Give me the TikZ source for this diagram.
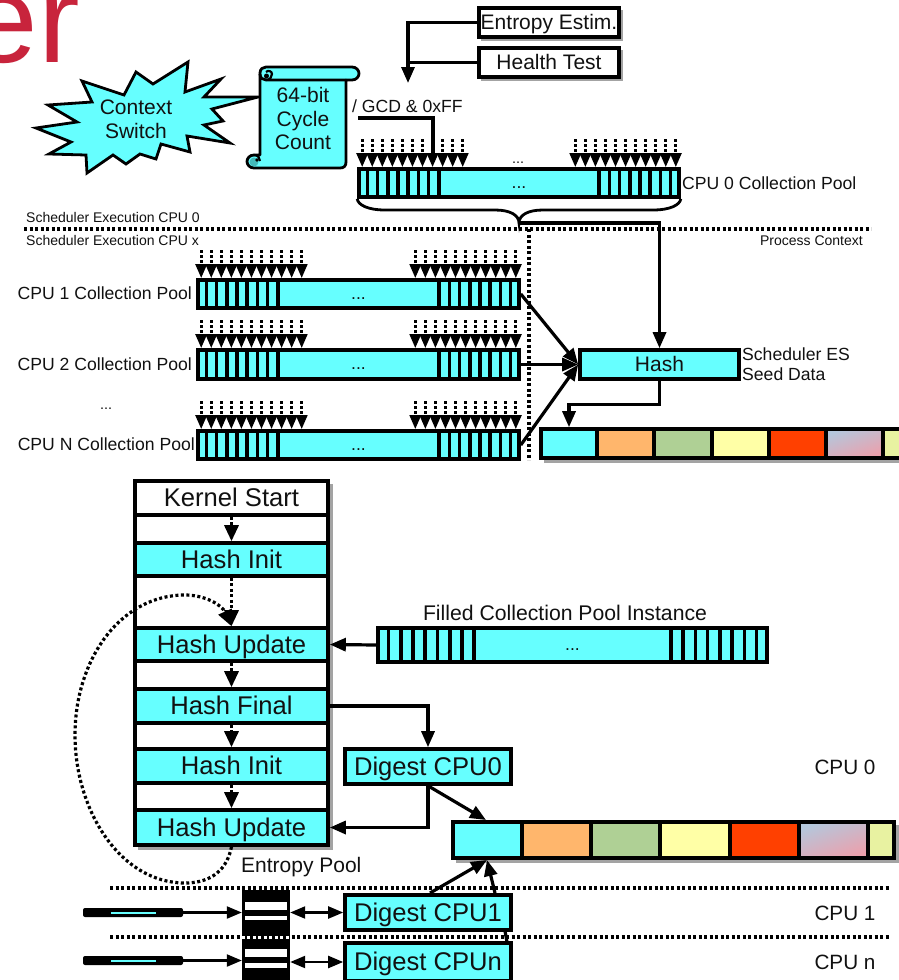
\documentclass[tikz,border=0pt]{standalone}
\usepackage{fontspec}
\setmainfont{Liberation Sans}
\usetikzlibrary{arrows.meta,calc}
\definecolor{cy}{HTML}{66FFFF}
\definecolor{shad}{HTML}{A3A3A3}
\definecolor{titlered}{HTML}{C8243C}
\definecolor{ink}{HTML}{111111}
\definecolor{teal2}{HTML}{44BBBB}
\definecolor{corange}{HTML}{FFB66C}
\definecolor{cgreen}{HTML}{AFD095}
\definecolor{cyellow}{HTML}{FFFFA6}
\definecolor{cred}{HTML}{FF4000}
\definecolor{cblue}{HTML}{B4C7DC}
\definecolor{cpink}{HTML}{ECA0AC}
\definecolor{clime}{HTML}{E8F2A1}
\newcommand\fsz[1]{\fontsize{#1}{#1}\selectfont}
% name, x1, y1, x2, y2, options, text : the node's path runs on the given rectangle
\newcommand\bxn[7]{%
  \pgfmathsetmacro\bxcx{(#2+#4)/2}%
  \pgfmathsetmacro\bxcy{(#3+#5)/2}%
  \pgfmathsetmacro\bxw{#4-#2}%
  \pgfmathsetmacro\bxh{#5-#3}%
  \node[#6,minimum width=\bxw pt,minimum height=\bxh pt] (#1) at (\bxcx,\bxcy) {#7};%
}
% the same, with the path inset by 1
\newcommand\bxo[7]{%
  \pgfmathsetmacro\bxcx{(#2+#4)/2}%
  \pgfmathsetmacro\bxcy{(#3+#5)/2}%
  \pgfmathsetmacro\bxw{#4-#2-2}%
  \pgfmathsetmacro\bxh{#5-#3-2}%
  \node[#6,minimum width=\bxw pt,minimum height=\bxh pt] (#1) at (\bxcx,\bxcy) {#7};%
}
% shadow under a box: x1, y1, x2, y2, offset
\newcommand\shd[5]{\fill[shad] (#1+#5,#2+#5) rectangle (#3+#5,#4+#5);}
% name, x1, y1, x2, y2, cell width
\newcommand\pooln[6]{%
  \bxo{#1}{#2}{#3}{#4}{#5}{cbox,font=\fsz{17.6},text height=10pt,text depth=0pt}{...}%
  \foreach \k in {1,...,8}{%
    \draw[divider] ($(#1.north west)+(#6*\k,0)$) -- ($(#1.south west)+(#6*\k,0)$);
    \draw[divider] ($(#1.north east)+(-#6*\k,0)$) -- ($(#1.south east)+(-#6*\k,0)$);
  }%
}
\newcommand\feedrow[1]{%
  \foreach \k in {0,...,10}{%
    \draw[feed] ($(#1.north west)+(5+10.05*\k,-28)$) -- ($(#1.north west)+(5+10.05*\k,0)$);
    \draw[feed] ($(#1.north east)+(-5-10.05*\k,-28)$) -- ($(#1.north east)+(-5-10.05*\k,0)$);
  }%
}
\tikzset{
  base/.style={inner sep=0pt,line width=3.6pt,text=ink,font=\fsz{21},text height=14.7pt,text depth=0pt},
  cbox/.style={base,draw=black,fill=cy},
  wbox/.style={base,draw=black,fill=white},
  rowtext/.style={font=\fsz{25.6},text height=17.9pt},
  divider/.style={line width=3.6pt,black},
  conn/.style={line width=3.2pt,black,-{Triangle[length=16pt,width=13pt]}},
  plain/.style={line width=3.2pt,black},
  feed/.style={line width=3pt,black,dash pattern=on 2.8pt off 2.2pt,-{Triangle[length=14pt,width=11pt]}},
  rowarrow/.style={line width=3.2pt,black,dash pattern=on 3pt off 2.5pt,-{Triangle[length=16pt,width=14pt]}},
  dotline/.style={line width=3.2pt,black,dash pattern=on 3pt off 2.5pt},
  label/.style={inner sep=0pt,text=ink,font=\fsz{17.6}},
  seedcell/.style={base,draw=black},
}
\begin{document}
\begin{tikzpicture}[x=1pt,y=-1pt]
\path[use as bounding box,clip] (0,0) rectangle (899,980);
% title fragment
\node[anchor=base east,inner sep=0pt,text=titlered,font=\fsz{125}] (title) at (80,62) {er};
% separators
\coordinate (sepL) at (24,229); \coordinate (sepR) at (871,229);
\coordinate (vtop) at (529,229); \coordinate (vbot) at (529,460);
\draw[dotline] (sepL) -- (sepR);
\draw[dotline] (vtop) -- (vbot);
\node[label,anchor=west,font=\fsz{14}] (sch0) at (26,217) {Scheduler Execution CPU 0};
\node[label,anchor=west,font=\fsz{14}] (schx) at (26,240) {Scheduler Execution CPU x};
\node[label,anchor=east,font=\fsz{14}] (proc) at (863,241) {Process Context};
% star
\draw[line width=2.8pt,fill=cy,line join=miter] (188,62) -- (185,92) -- (221,79) -- (204,97) -- (258,97) -- (212,109) -- (223,121) -- (204,125) -- (230,143) -- (187,136) -- (190,152) -- (161,144) -- (156,159) -- (140,154) -- (126,164) -- (113,155) -- (87,173) -- (86,155) -- (49,154) -- (71,142) -- (36,128) -- (77,122) -- (48,105) -- (92,102) -- (82,81) -- (124,95) -- (136,72) -- (153,84) -- cycle;
\node[inner sep=0pt,align=center,text=ink,font=\fontsize{21}{24}\selectfont] (star) at (136,119) {Context\\Switch};
% scroll
\draw[line width=2.8pt,fill=cy,line join=round] (266,67) -- (352,67) .. controls (356,67) and (359,70) .. (359,73.5) .. controls (359,77) and (356,80) .. (352,80) -- (346,80) -- (346,162) .. controls (346,166) and (344,168) .. (340,168) -- (254,168) .. controls (250,168) and (247,165) .. (247,161.5) .. controls (247,158) and (250,155) .. (254,155) -- (260,155) -- (260,73) .. controls (260,69) and (263,67) .. (266,67) -- cycle;
\draw[line width=2.8pt] (260,74) .. controls (260,78) and (263,80) .. (266,80) -- (346,80);
\draw[line width=2.2pt] (266,80) .. controls (270,80) and (272,77) .. (272,74) .. controls (272,71) and (268,70) .. (266,72);
\fill[black] (266.5,76) circle (2.5);
\fill[teal2] (254,162) circle (4.5);
\draw[line width=2.2pt] (254,155) .. controls (258,155) and (260,158) .. (260,161);
\fill[black] (257,160) circle (1.8);
\node[inner sep=0pt,align=center,text=ink,font=\fontsize{21}{23.5}\selectfont] (scroll) at (303,118.5) {64-bit\\Cycle\\Count};
% entropy estimator / health test
\shd{478}{7}{620}{38}{3}
\shd{478}{47}{620}{78}{3}
\bxo{ent}{478}{7}{620}{38}{wbox}{Entropy Estim.}
\bxo{hlt}{478}{47}{620}{78}{wbox}{Health Test}
\coordinate (tip) at (408,83);
\draw[conn] (ent.west) -| (tip);
\draw[plain] (hlt.west) -- (hlt.west -| tip);
\node[label,anchor=west] (gcd) at (352,106) {/ GCD \& 0xFF};
\coordinate (gcdS) at (358,118); \coordinate (gcdE) at (433,156);
\draw[plain] (gcdS) -| (gcdE);
% collection pools
\pooln{pool0}{358}{168}{680}{198}{10.2}
\feedrow{pool0}
\node[label,font=\fsz{14.4},text height=10pt,text depth=0pt] (dots0) at (518,158) {...};
\node[label,anchor=west] (pool0l) at (682,183) {CPU 0 Collection Pool};
\pooln{pool1}{197}{279}{520}{309}{10.2}
\feedrow{pool1}
\node[label,anchor=east] (pool1l) at (192,293) {CPU 1 Collection Pool};
\pooln{pool2}{197}{349}{520}{380}{10.2}
\feedrow{pool2}
\node[label,anchor=east] (pool2l) at (192,364) {CPU 2 Collection Pool};
\node[label,font=\fsz{14.4},text height=10pt,text depth=0pt] (dotsL) at (106,404) {...};
\pooln{pooln}{197}{430}{520}{460}{10.2}
\feedrow{pooln}
\node[label,anchor=east] (poolnl) at (195,444) {CPU N Collection Pool};
% brace
\coordinate (btip) at (519,223);
\draw[line width=2.8pt] (pool0.south west) .. controls (358,205) and (368,210) .. (385,210) -- (495,210) .. controls (510,210) and (519,215) .. (btip) .. controls (519,215) and (528,210) .. (543,210) -- (653,210) .. controls (670,210) and (680,205) .. (pool0.south east);
% hash
\bxo{hash}{579}{349}{740}{380}{cbox}{Hash}
\node[label,anchor=west] (hashl1) at (742,354) {Scheduler ES};
\node[label,anchor=west] (hashl2) at (742,374) {Seed Data};
\draw[conn] (btip) -| (hash.north);
\draw[conn] (pool1.east) -- (hash.west);
\draw[conn] (pool2.east) -- (hash.west);
\draw[conn] (pooln.east) -- (hash.west);
% seed bar
\shd{540}{428}{920}{459}{4}
\bxn{seed1}{541}{429}{597}{458}{seedcell,fill=cy}{}
\bxn{seed2}{597}{429}{654}{458}{seedcell,fill=corange}{}
\bxn{seed3}{654}{429}{712}{458}{seedcell,fill=cgreen}{}
\bxn{seed4}{712}{429}{769}{458}{seedcell,fill=cyellow}{}
\bxn{seed5}{769}{429}{826}{458}{seedcell,fill=cred}{}
\bxn{seed6}{826}{429}{883}{458}{seedcell,left color=cblue,right color=cpink,shading angle=20}{}
\bxn{seed7}{883}{429}{920}{458}{seedcell,fill=clime}{}
\draw[conn] (hash.south) -- ++(0,24) -| (seed1.north);
% stack
\shd{134}{480}{329}{846}{4}
\bxo{stack}{134}{480}{329}{846}{wbox}{}
\bxo{kstart}{134}{480}{329}{516}{wbox,rowtext}{Kernel Start}
\bxo{hinit}{134}{542}{329}{577}{cbox,rowtext}{Hash Init}
\bxo{hupd}{134}{627}{329}{662}{cbox,rowtext}{Hash Update}
\bxo{hfin}{134}{688}{329}{724}{cbox,rowtext}{Hash Final}
\bxo{hinit2}{134}{748}{329}{784}{cbox,rowtext}{Hash Init}
\bxo{hupd2}{134}{809}{329}{846}{cbox,rowtext}{Hash Update}
\draw[rowarrow] (kstart.south) -- (hinit.north);
\draw[rowarrow] (hinit.south) -- (hupd.north);
\draw[rowarrow] (hupd.south) -- (hfin.north);
\draw[rowarrow] (hfin.south) -- (hinit2.north);
\draw[rowarrow] (hinit2.south) -- (hupd2.north);
\draw[rowarrow] (hupd2.south) .. controls (226,875) and (205,883) .. (185,883) .. controls (120,883) and (75,810) .. (75,735) .. controls (75,660) and (120,595) .. (185,595) .. controls (205,595) and (222,605) .. (hupd.north);
% filled pool
\pooln{filled}{377}{627}{768}{663}{12.25}
\node[label,font=\fsz{21.2}] (filledl) at (565,613) {Filled Collection Pool Instance};
\draw[conn] (filled.west) -- (hupd.east);
% digests
\bxo{dig0}{344}{748}{512}{785}{cbox,rowtext}{Digest CPU0}
\draw[conn] (hfin.east) -| (dig0.north);
\draw[conn] (dig0.south) |- (hupd2.east);
% entropy pool
\shd{452}{821}{895}{859}{4}
\bxn{ep1}{453}{822}{522}{858}{seedcell,fill=cy}{}
\bxn{ep2}{522}{822}{591}{858}{seedcell,fill=corange}{}
\bxn{ep3}{591}{822}{660}{858}{seedcell,fill=cgreen}{}
\bxn{ep4}{660}{822}{730}{858}{seedcell,fill=cyellow}{}
\bxn{ep5}{730}{822}{799}{858}{seedcell,fill=cred}{}
\bxn{ep6}{799}{822}{868}{858}{seedcell,left color=cblue,right color=cpink,shading angle=20}{}
\bxn{ep7}{868}{822}{894}{858}{seedcell,fill=clime}{}
\coordinate (epTop) at (486,820);
\coordinate (epBot) at (487,860);
\draw[conn] (dig0.south) -- (epTop);
\node[label,anchor=west,font=\fsz{21}] (epl) at (241,867) {Entropy Pool};
% CPU separators
\coordinate (s1L) at (110,888); \coordinate (s1R) at (890,888);
\coordinate (s2L) at (110,937); \coordinate (s2R) at (890,937);
\draw[dotline] (s1L) -- (s1R);
\draw[dotline] (s2L) -- (s2R);
% sources and buffer column
\bxn{col}{242}{890}{290}{990}{inner sep=0pt,fill=black}{}
\fill[white] (245,902) rectangle (287,909.5);
\fill[white] (245,915.5) rectangle (287,920);
\fill[white] (245,949) rectangle (287,957);
\fill[white] (245,963) rectangle (287,968);
\draw[line width=3pt,white,dash pattern=on 3pt off 2.5pt] (col.west |- s2L) -- (col.east |- s2L);
\bxo{dig1}{344}{894}{512}{931}{cbox,rowtext}{Digest CPU1}
\bxo{dign}{344}{942}{512}{982}{cbox,rowtext}{Digest CPUn}
\bxn{src1}{83}{908}{183}{917}{inner sep=0pt,fill=black,rounded corners=2pt}{}
\fill[cy] (111,912) rectangle (156,914);
\bxn{srcn}{83}{956}{183}{965}{inner sep=0pt,fill=black,rounded corners=2pt}{}
\fill[cy] (111,960) rectangle (156,962);
\draw[line width=2.2pt,-{Triangle[length=15pt,width=12pt]}] (src1.east) -- (src1.east -| col.west);
\draw[line width=2.2pt,-{Triangle[length=15pt,width=12pt]}] (srcn.east) -- (srcn.east -| col.west);
\draw[line width=2.2pt,{Triangle[length=15pt,width=12pt]}-{Triangle[length=15pt,width=12pt]}] (dig1.west -| col.east) -- (dig1.west);
\draw[line width=2.2pt,{Triangle[length=15pt,width=12pt]}-{Triangle[length=15pt,width=12pt]}] (dign.west -| col.east) -- (dign.west);
\coordinate (d1a) at (430,893);
\coordinate (d1b) at (495,893);
\draw[conn] (d1a) -- (epBot);
\draw[conn] (d1b) -- (epBot);
\coordinate (dna) at (507,942);
\draw[plain] (dna) -- (505,931);
\node[label,font=\fsz{20.7}] (c0) at (845,767) {CPU 0};
\node[label,font=\fsz{20.7}] (c1) at (845,913) {CPU 1};
\node[label,font=\fsz{20.7}] (cn) at (845,962) {CPU n};
\end{tikzpicture}
\end{document}
